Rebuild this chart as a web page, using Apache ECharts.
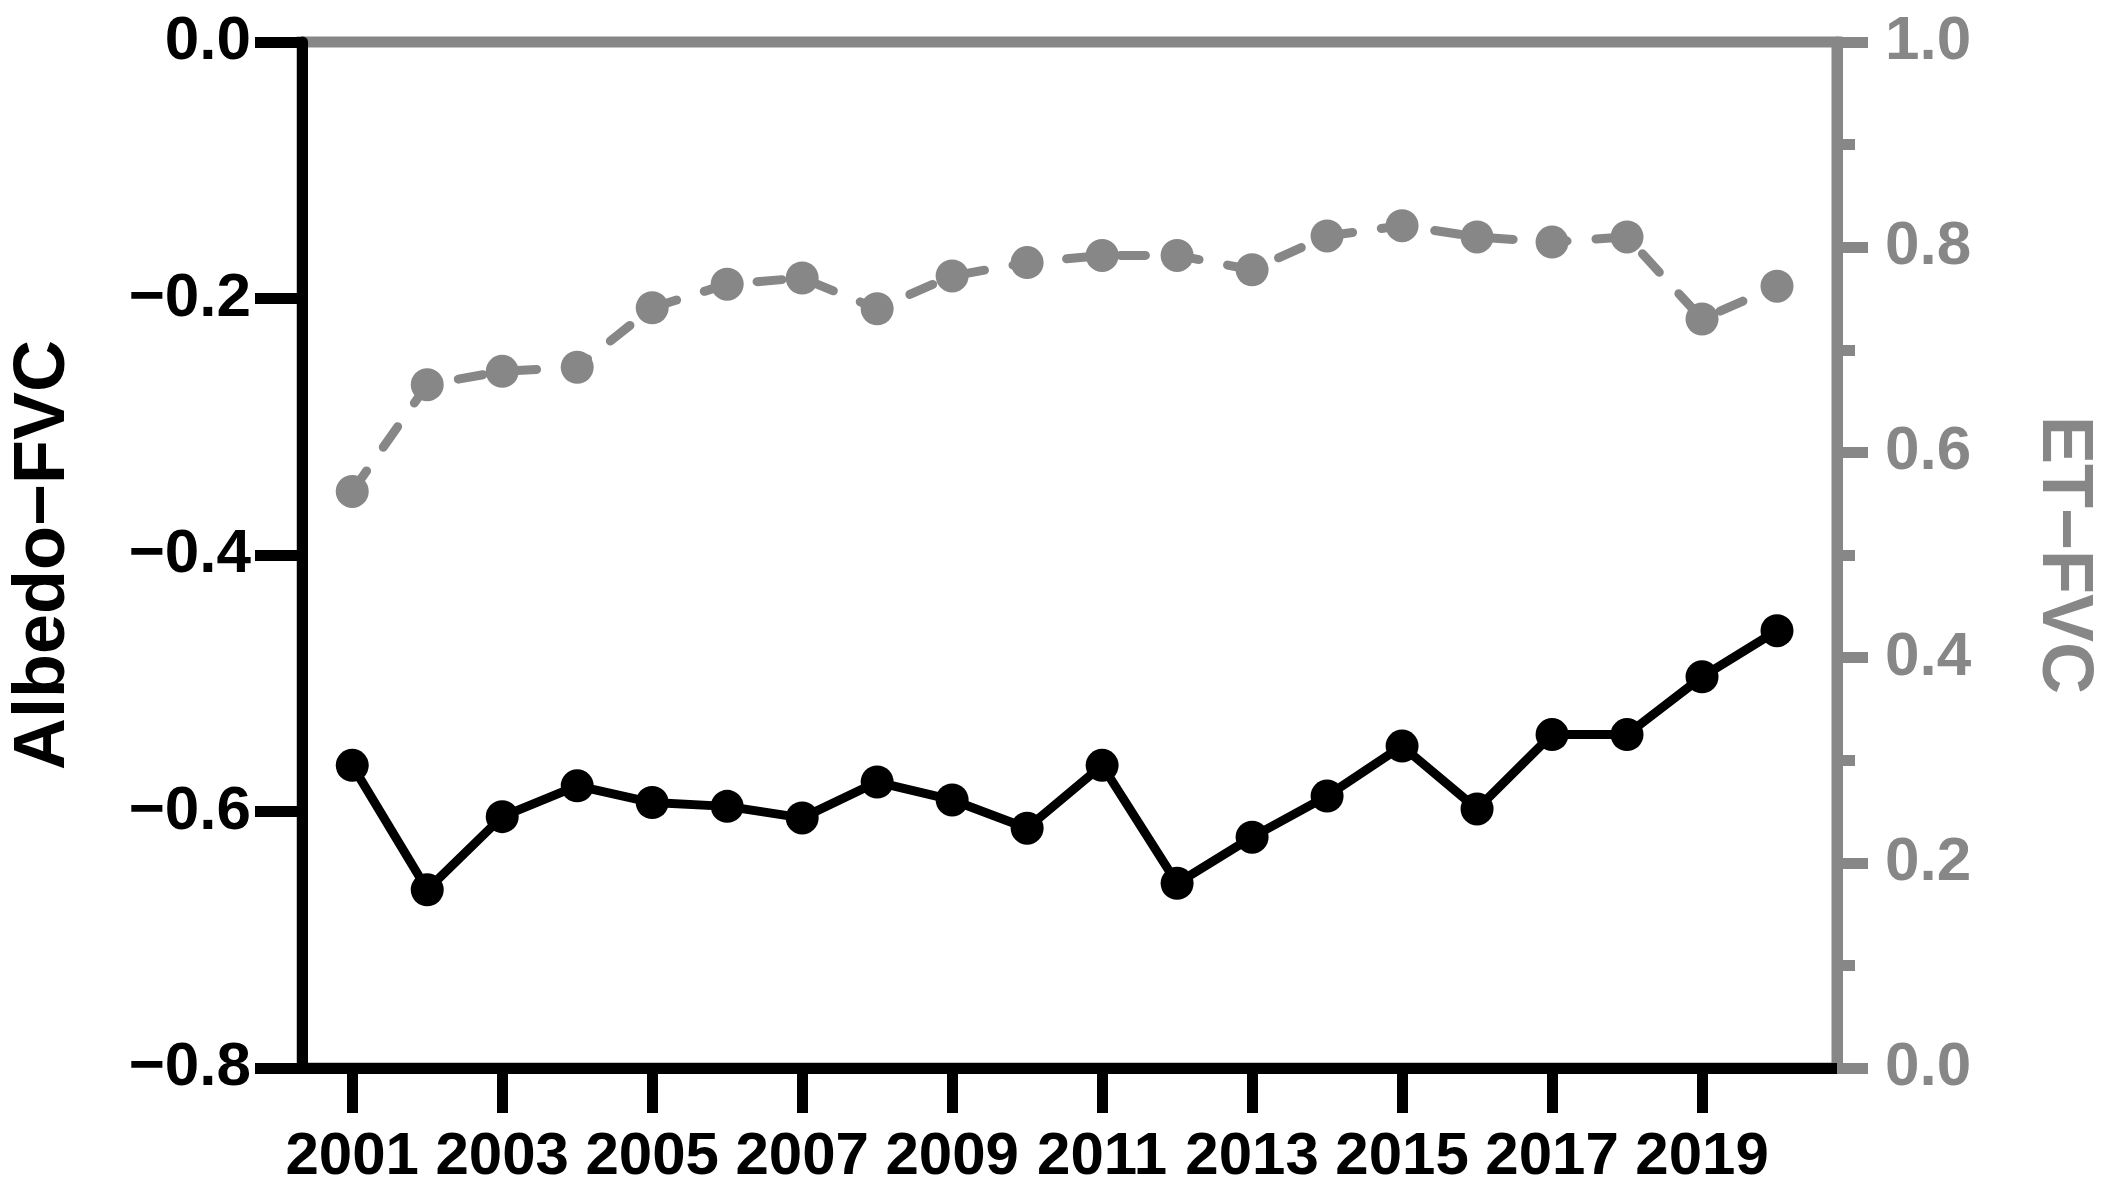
<!DOCTYPE html>
<html>
<head>
<meta charset="utf-8">
<script src="https://cdn.jsdelivr.net/npm/echarts@6/dist/echarts.min.js"></script>
<style>html,body{margin:0;padding:0;background:#fff;}#c{width:2114px;height:1203px;}</style>
</head>
<body>
<div id="c"></div>
<script>
const years = [2001,2002,2003,2004,2005,2006,2007,2008,2009,2010,2011,2012,2013,2014,2015,2016,2017,2018,2019,2020];
const albedoFVC = [-0.564,-0.661,-0.604,-0.580,-0.593,-0.596,-0.605,-0.577,-0.591,-0.613,-0.564,-0.656,-0.620,-0.588,-0.549,-0.598,-0.540,-0.540,-0.495,-0.459];
const etFVC = [0.562,0.666,0.679,0.683,0.741,0.764,0.770,0.740,0.772,0.785,0.792,0.792,0.778,0.811,0.821,0.810,0.805,0.810,0.730,0.762];
const xTickYears = [2001,2003,2005,2007,2009,2011,2013,2015,2017,2019];
const leftAxisTitle = 'Albedo\u2212FVC';
const rightAxisTitle = 'ET\u2212FVC';

const GRAY = '#878787';
const FONT = 'Liberation Sans';
const fmt = v => { const s = Math.abs(v) < 1e-9 ? '0.0' : v.toFixed(1); return s.replace('-', '\u2212'); };

const chart = echarts.init(document.getElementById('c'), null, {renderer: 'canvas'});
chart.setOption({
  animation: false,
  backgroundColor: '#fff',
  grid: {left: 300, right: 277, top: 42, bottom: 135, show: true, borderColor: GRAY, borderWidth: 11, backgroundColor: 'transparent'},
  xAxis: {
    type: 'value', min: 2000.33, max: 2020.8,
    axisLine: {show: true, onZero: false, lineStyle: {color: '#000', width: 11}},
    axisTick: {show: true, customValues: xTickYears, length: 45, lineStyle: {color: '#000', width: 11}},
    axisLabel: {customValues: xTickYears, margin: 59, color: '#000', fontFamily: FONT, fontWeight: 'bold', fontSize: 60, formatter: v => String(v)},
    splitLine: {show: false}
  },
  yAxis: [{
    type: 'value', position: 'left', min: -0.8, max: 0, interval: 0.2,
    name: leftAxisTitle, nameLocation: 'middle', nameRotate: 90, nameGap: 222,
    nameTextStyle: {color: '#000', fontFamily: FONT, fontWeight: 'bold', fontSize: 72},
    axisLine: {show: true, lineStyle: {color: '#000', width: 11}},
    axisTick: {show: true, length: 47, lineStyle: {color: '#000', width: 11}},
    axisLabel: {margin: 51, color: '#000', fontFamily: FONT, fontWeight: 'bold', fontSize: 62, formatter: fmt},
    splitLine: {show: false}
  }, {
    type: 'value', position: 'right', min: 0, max: 1, interval: 0.2,
    name: rightAxisTitle, nameLocation: 'middle', nameRotate: -90, nameGap: 190,
    nameTextStyle: {color: GRAY, fontFamily: FONT, fontWeight: 'bold', fontSize: 72},
    axisLine: {show: true, lineStyle: {color: GRAY, width: 11}},
    axisTick: {show: true, length: 31, lineStyle: {color: GRAY, width: 11}},
    minorTick: {show: true, splitNumber: 2, length: 18, lineStyle: {color: GRAY, width: 11}},
    axisLabel: {margin: 48, color: GRAY, fontFamily: FONT, fontWeight: 'bold', fontSize: 62, formatter: fmt},
    splitLine: {show: false}
  }],
  series: [{
    type: 'line', yAxisIndex: 1,
    data: years.map((y, i) => [y, etFVC[i]]),
    symbol: 'circle', symbolSize: 33,
    itemStyle: {color: GRAY},
    lineStyle: {color: GRAY, width: 9, type: [25, 29], cap: 'round'}
  }, {
    type: 'line', yAxisIndex: 0,
    data: years.map((y, i) => [y, albedoFVC[i]]),
    symbol: 'circle', symbolSize: 33,
    itemStyle: {color: '#000'},
    lineStyle: {color: '#000', width: 9}
  }]
});
</script>
</body>
</html>
